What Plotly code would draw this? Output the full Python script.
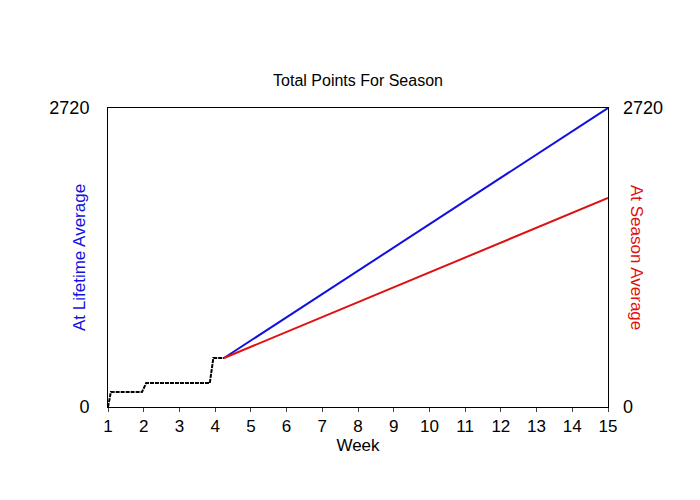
import plotly.graph_objects as go

black_x = [1, 1.08, 1.95, 2.07, 3.85, 3.95, 4.25]
black_y = [0, 136, 136, 218, 218, 446, 446]
blue_x = [4.25, 15]
blue_y = [446, 2720]
red_x = [4.25, 15]
red_y = [446, 1901]
ymax = 2720

fig = go.Figure()
fig.add_trace(go.Scatter(x=blue_x, y=blue_y, mode="lines", line=dict(color="#1010e0", width=2)))
fig.add_trace(go.Scatter(x=red_x, y=red_y, mode="lines", line=dict(color="#e01010", width=2)))
fig.add_trace(go.Scatter(x=black_x, y=black_y, mode="lines", line=dict(color="black", width=2, dash="4px,1px")))
fig.add_trace(go.Scatter(x=[1], y=[0], yaxis="y2", mode="markers", marker=dict(opacity=0), hoverinfo="skip"))

fig.update_layout(
    width=700, height=500, showlegend=False,
    plot_bgcolor="white", paper_bgcolor="white",
    margin=dict(l=100, r=100, t=100, b=101, autoexpand=False),
    font=dict(family="Liberation Sans, Arial", color="black", size=16),
    title=dict(text="Total Points For Season", x=0.5, xanchor="center", y=0.856, yanchor="middle", font=dict(size=16)),
    xaxis=dict(range=[1, 15], tickvals=list(range(1, 16)), showgrid=False, zeroline=False,
               showline=True, linecolor="black", mirror=True, ticks="outside", ticklen=4,
               tickfont=dict(size=17), automargin=False,
               title=dict(text="Week", standoff=0, font=dict(size=17))),
    yaxis=dict(range=[0, ymax], tickvals=[0, ymax], showgrid=False, zeroline=False,
               showline=True, linecolor="black", mirror=True, ticks="", automargin=False,
               tickfont=dict(size=18), ticklabelstandoff=14),
    yaxis2=dict(range=[0, ymax], tickvals=[0, ymax], overlaying="y", side="right", showgrid=False,
                zeroline=False, ticks="", automargin=False, tickfont=dict(size=18), ticklabelstandoff=14),
    annotations=[
        dict(text="At Lifetime Average", x=60, xref="paper", y=0.5, yref="paper", textangle=-90,
             showarrow=False, font=dict(color="#1010e0", size=17)),
        dict(text="At Season Average", x=1.08, xref="paper", y=0.5, yref="paper", textangle=90,
             showarrow=False, font=dict(color="#e01010", size=17)),
    ],
)
fig.layout.annotations[0].x = -0.08
fig.write_html("out.html")
